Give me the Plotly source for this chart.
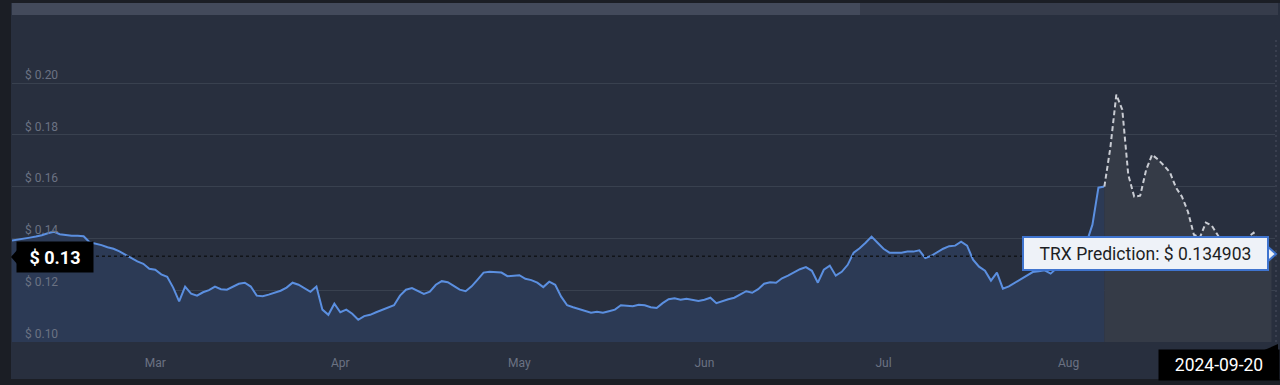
import pandas as pd
import plotly.graph_objects as go

# ---------------- data ----------------
hist_start = "2024-02-06"
hist_prices = [
    0.1392, 0.1395, 0.1399, 0.1403, 0.1407, 0.1412, 0.1420, 0.1426, 0.1416, 0.1412,
    0.1410, 0.1410, 0.1408, 0.1385, 0.1380, 0.1374, 0.1366, 0.1360, 0.1350, 0.1337,
    0.1323, 0.1311, 0.1302, 0.1283, 0.1279, 0.1261, 0.1252, 0.1210, 0.1157, 0.1214,
    0.1187, 0.1179, 0.1192, 0.1200, 0.1214, 0.1204, 0.1202, 0.1212, 0.1225, 0.1229,
    0.1214, 0.1179, 0.1177, 0.1183, 0.1190, 0.1198, 0.1210, 0.1229, 0.1221, 0.1208,
    0.1194, 0.1214, 0.1125, 0.1105, 0.1148, 0.1115, 0.1125, 0.1109, 0.1086, 0.1100,
    0.1105, 0.1115, 0.1123, 0.1132, 0.1142, 0.1179, 0.1202, 0.1208, 0.1198, 0.1186,
    0.1194, 0.1221, 0.1235, 0.1231, 0.1217, 0.1202, 0.1196, 0.1215, 0.1241, 0.1268,
    0.1271, 0.1270, 0.1268, 0.1254, 0.1256, 0.1258, 0.1244, 0.1239, 0.1229, 0.1212,
    0.1233, 0.1221, 0.1175, 0.1142, 0.1134, 0.1127, 0.1119, 0.1113, 0.1117, 0.1113,
    0.1119, 0.1125, 0.1142, 0.1140, 0.1138, 0.1144, 0.1142, 0.1134, 0.1131, 0.1150,
    0.1165, 0.1169, 0.1163, 0.1167, 0.1161, 0.1158, 0.1163, 0.1171, 0.1150, 0.1159,
    0.1165, 0.1171, 0.1183, 0.1196, 0.1190, 0.1204, 0.1225, 0.1231, 0.1229, 0.1246,
    0.1256, 0.1270, 0.1281, 0.1289, 0.1275, 0.1229, 0.1279, 0.1295, 0.1256, 0.1271,
    0.1298, 0.1345, 0.1362, 0.1383, 0.1407, 0.1383, 0.1360, 0.1345, 0.1345, 0.1345,
    0.1349, 0.1349, 0.1354, 0.1324, 0.1333, 0.1347, 0.1360, 0.1370, 0.1372, 0.1387,
    0.1372, 0.1318, 0.1291, 0.1275, 0.1237, 0.1268, 0.1206, 0.1215, 0.1229, 0.1242,
    0.1256, 0.1270, 0.1273, 0.1277, 0.1264, 0.1287, 0.1306, 0.1318, 0.1329, 0.1352,
    0.1383, 0.1453, 0.1596, 0.1600,
]
pred_start = "2024-08-07"
pred_prices = [
    0.1600, 0.1750, 0.1955, 0.1897, 0.1646, 0.1561, 0.1565, 0.1665, 0.1723, 0.1704,
    0.1681, 0.1654, 0.1596, 0.1561, 0.1503, 0.1414, 0.1403, 0.1461, 0.1449, 0.1414,
    0.1376, 0.1356, 0.1364, 0.1387, 0.1403, 0.1422, 0.1387, 0.1364, 0.134903,
]
y_ticks = [0.10, 0.12, 0.14, 0.16, 0.18, 0.20]
y_tick_labels = ["$ 0.10", "$ 0.12", "$ 0.14", "$ 0.16", "$ 0.18", "$ 0.20"]
x_ticks = ["2024-03-01", "2024-04-01", "2024-05-01", "2024-06-01", "2024-07-01", "2024-08-01"]
x_tick_labels = ["Mar", "Apr", "May", "Jun", "Jul", "Aug"]
crosshair_price = 0.1331
crosshair_label = "$ 0.13"
tooltip_text = "TRX Prediction: $ 0.134903"
date_label = "2024-09-20"

hist_dates = pd.date_range(hist_start, periods=len(hist_prices), freq="D")
pred_dates = pd.date_range(pred_start, periods=len(pred_prices), freq="D")

# ---------------- layout helpers ----------------
W, H = 1280, 385
ML, MR, MT, MB = 12, 5, 20, 43
PW, PH = W - ML - MR, H - MT - MB


def px(x):
    return (x - ML) / PW


def py(y):
    return (H - MB - y) / PH


BG = "#282f3e"
DARK = "#1b1e25"

fig = go.Figure()
fig.add_trace(go.Scatter(
    x=hist_dates, y=hist_prices, mode="lines",
    line=dict(color="#5b8fe0", width=2),
    fill="tozeroy", fillcolor="#2c3a55",
    hoverinfo="skip", showlegend=False,
))
fig.add_trace(go.Scatter(
    x=pred_dates, y=pred_prices, mode="lines",
    line=dict(color="#c9ccd3", width=2, dash="5px,3px"),
    fill="tozeroy", fillcolor="#353b47",
    hoverinfo="skip", showlegend=False,
))

shapes = [
    # frame strips
    dict(type="rect", xref="paper", yref="paper", x0=px(0), x1=px(11), y0=py(H), y1=py(0),
         fillcolor=DARK, line_width=0, layer="below"),
    dict(type="rect", xref="paper", yref="paper", x0=px(0), x1=px(W), y0=py(H), y1=py(379),
         fillcolor=DARK, line_width=0, layer="below"),
    dict(type="rect", xref="paper", yref="paper", x0=px(0), x1=px(W), y0=py(3), y1=py(0),
         fillcolor=DARK, line_width=0, layer="below"),
    # navigator bar
    dict(type="rect", xref="paper", yref="paper", x0=px(12), x1=px(860), y0=py(15), y1=py(3),
         fillcolor="#434a5b", line_width=0),
    dict(type="rect", xref="paper", yref="paper", x0=px(860), x1=px(1278), y0=py(15), y1=py(3),
         fillcolor="#363c4b", line_width=0),
    # crosshairs
    dict(type="line", xref="paper", yref="y", x0=0, x1=1, y0=crosshair_price, y1=crosshair_price,
         line=dict(color="#111419", width=1.5, dash="3px,3px")),
    dict(type="line", xref="paper", yref="paper", x0=px(1276), x1=px(1276), y0=0, y1=py(40),
         line=dict(color="#4a5160", width=1, dash="2px,3px")),
    # label pointers
    dict(type="path", xref="paper", yref="paper",
         path=f"M {px(18)},{py(249)} L {px(11)},{py(257)} L {px(18)},{py(265)} Z",
         fillcolor="#000000", line_width=0),
    dict(type="path", xref="paper", yref="paper",
         path=f"M {px(1267)},{py(246)} L {px(1276)},{py(254)} L {px(1267)},{py(262)} Z",
         fillcolor="#eef2f8", line=dict(color="#3f74cf", width=2)),
    dict(type="path", xref="paper", yref="paper",
         path=f"M {px(1262)},{py(351)} L {px(1278)},{py(344)} L {px(1278)},{py(351)} Z",
         fillcolor="#000000", line_width=0),
]

annotations = [
    dict(text=f"<b>{crosshair_label}</b>", xref="paper", yref="paper",
         x=px(55), y=py(257), xanchor="center", yanchor="middle", showarrow=False,
         bgcolor="#000000", width=74, height=28,
         font=dict(family="Roboto", size=18, color="#ffffff")),
    dict(text=tooltip_text, xref="paper", yref="paper",
         x=px(1145.5), y=py(253.5), xanchor="center", yanchor="middle", showarrow=False,
         bgcolor="#eef2f8", bordercolor="#3f74cf", borderwidth=2, width=241, height=29,
         font=dict(family="Roboto", size=17.5, color="#1d1f24")),
    dict(text=date_label, xref="paper", yref="paper",
         x=px(1219), y=py(365), xanchor="center", yanchor="middle", showarrow=False,
         bgcolor="#000000", width=118, height=28,
         font=dict(family="Roboto", size=17.5, color="#ffffff")),
]

fig.update_layout(
    width=W, height=H,
    margin=dict(l=ML, r=MR, t=MT, b=MB, pad=0),
    paper_bgcolor=BG, plot_bgcolor=BG,
    showlegend=False,
    shapes=shapes, annotations=annotations,
    font=dict(family="Roboto", color="#6b7283", size=12),
    xaxis=dict(
        type="date",
        range=[hist_dates[0], pred_dates[-1] + pd.Timedelta(hours=14)],
        tickvals=x_ticks, ticktext=x_tick_labels,
        showgrid=False, zeroline=False, showline=False, ticks="",
        ticklabelstandoff=12,
        tickfont=dict(family="Roboto", size=12, color="#6b7283"),
    ),
    yaxis=dict(
        range=[0.10, 0.10 + PH / 2590],
        tickvals=y_ticks, ticktext=y_tick_labels,
        ticklabelposition="inside top", ticks="",
        showgrid=True, gridcolor="#39414f", gridwidth=1,
        zeroline=False, showline=False,
        ticklabelstandoff=10,
        tickfont=dict(family="Roboto", size=12, color="#6b7283"),
    ),
)

fig.write_html("out.html")
